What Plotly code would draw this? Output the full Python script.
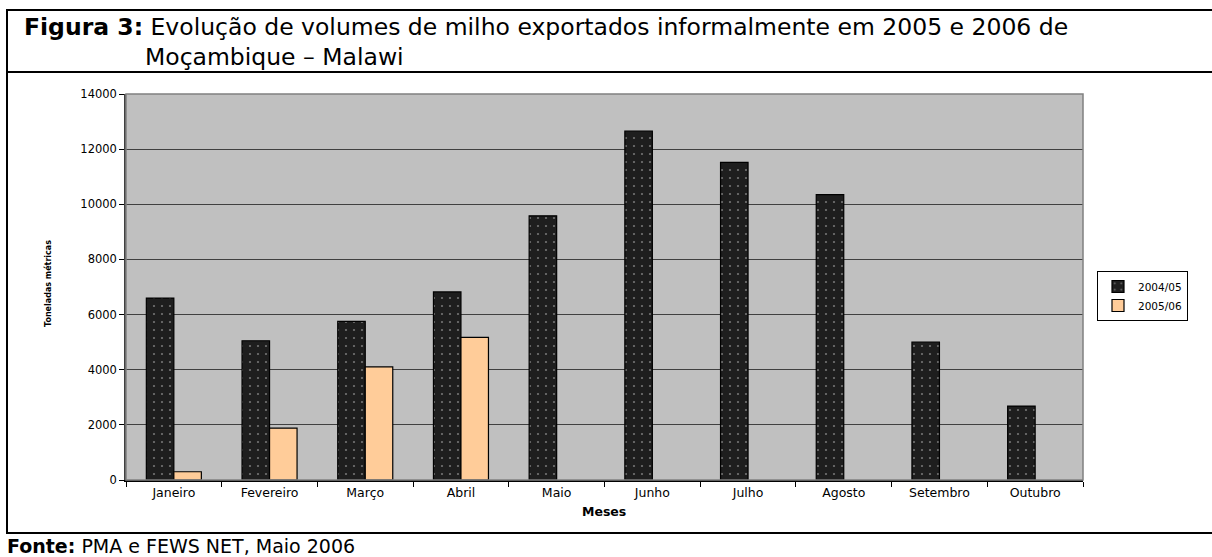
import plotly.graph_objects as go

months = ["Janeiro", "Fevereiro", "Março", "Abril", "Maio", "Junho",
          "Julho", "Agosto", "Setembro", "Outubro"]
v_2004_05 = [6600, 5050, 5750, 6820, 9580, 12650, 11520, 10350, 5000, 2680]
v_2005_06 = [300, 1880, 4100, 5170, None, None, None, None, None, None]
y_ticks = [0, 2000, 4000, 6000, 8000, 10000, 12000, 14000]

FONT = "DejaVu Sans, Liberation Sans, Arial, sans-serif"
W, H = 1212, 557
L, R, T, B = 126, 1083, 94, 480


def px(x):
    return (x - L) / (R - L)


def py(y):
    return (B - y) / (B - T)


fig = go.Figure()
fig.add_trace(go.Bar(
    x=months, y=v_2004_05, name="2004/05",
    marker=dict(color="#1E1E1E", line=dict(color="#000000", width=1.2),
                pattern=dict(shape=".", fgcolor="#C8C8C8", bgcolor="#1E1E1E",
                             size=8, solidity=0.06)),
))
fig.add_trace(go.Bar(
    x=months, y=v_2005_06, name="2005/06",
    marker=dict(color="#FFCC99", line=dict(color="#000000", width=1.2)),
))

shapes = [
    # plot area frame
    dict(type="rect", xref="paper", yref="paper", x0=0, x1=1, y0=0, y1=1,
         line=dict(color="#808080", width=1.5), layer="above"),
    # outer box lines
    dict(type="line", xref="paper", yref="paper", x0=px(6), x1=px(1212), y0=py(10), y1=py(10),
         line=dict(color="#000000", width=2)),
    dict(type="line", xref="paper", yref="paper", x0=px(6), x1=px(1212), y0=py(72), y1=py(72),
         line=dict(color="#000000", width=2)),
    dict(type="line", xref="paper", yref="paper", x0=px(6), x1=px(1212), y0=py(533), y1=py(533),
         line=dict(color="#000000", width=2)),
    dict(type="line", xref="paper", yref="paper", x0=px(7), x1=px(7), y0=py(9), y1=py(534),
         line=dict(color="#000000", width=2)),
]

annotations = [
    dict(text="<b>Figura 3:</b> Evolução de volumes de milho exportados informalmente em 2005 e 2006 de",
         xref="paper", yref="paper", x=px(22), y=py(27), xanchor="left", yanchor="middle",
         showarrow=False, font=dict(family=FONT, size=23.5, color="#000000")),
    dict(text="Moçambique – Malawi",
         xref="paper", yref="paper", x=px(143), y=py(57), xanchor="left", yanchor="middle",
         showarrow=False, font=dict(family=FONT, size=23.5, color="#000000")),
    dict(text="<b>Fonte:</b> PMA e FEWS NET, Maio 2006",
         xref="paper", yref="paper", x=px(6), y=py(546), xanchor="left", yanchor="middle",
         borderpad=0, showarrow=False, font=dict(family=FONT, size=19, color="#000000")),
    dict(text="<b>Toneladas métricas</b>",
         xref="paper", yref="paper", x=px(48), y=py(284), xanchor="center", yanchor="middle",
         textangle=-90, showarrow=False, font=dict(family=FONT, size=8, color="#000000")),
    dict(text="<b>Meses</b>",
         xref="paper", yref="paper", x=px(604), y=py(511), xanchor="center", yanchor="middle",
         showarrow=False, font=dict(family=FONT, size=12.5, color="#000000")),
]

fig.update_layout(
    width=W, height=H,
    margin=dict(l=L, r=W - R, t=T, b=H - B, autoexpand=False),
    paper_bgcolor="#FFFFFF",
    plot_bgcolor="#C0C0C0",
    barmode="group",
    bargap=0.425,
    bargroupgap=0,
    font=dict(family=FONT, size=12, color="#000000"),
    showlegend=True,
    legend=dict(x=px(1097), y=py(271), xanchor="left", yanchor="top",
                bordercolor="#000000", borderwidth=1, bgcolor="#FFFFFF",
                font=dict(family=FONT, size=10.5), tracegroupgap=0,
                itemwidth=30),
    shapes=shapes,
    annotations=annotations,
    xaxis=dict(
        categoryorder="array", categoryarray=months,
        tickson="boundaries", ticks="outside", ticklen=5, tickcolor="#000000",
        showline=True, linecolor="#000000", linewidth=1.5,
        showgrid=False, tickfont=dict(family=FONT, size=12.5),
    ),
    yaxis=dict(
        range=[0, 14000], tickvals=y_ticks, tickformat="d", ticks="outside", ticklen=5,
        tickcolor="#000000", showline=True, linecolor="#404040", linewidth=1.5,
        showgrid=True, gridcolor="#404040", gridwidth=1,
        tickfont=dict(family=FONT, size=11.5), zeroline=False,
    ),
)

fig.write_html("out.html")
